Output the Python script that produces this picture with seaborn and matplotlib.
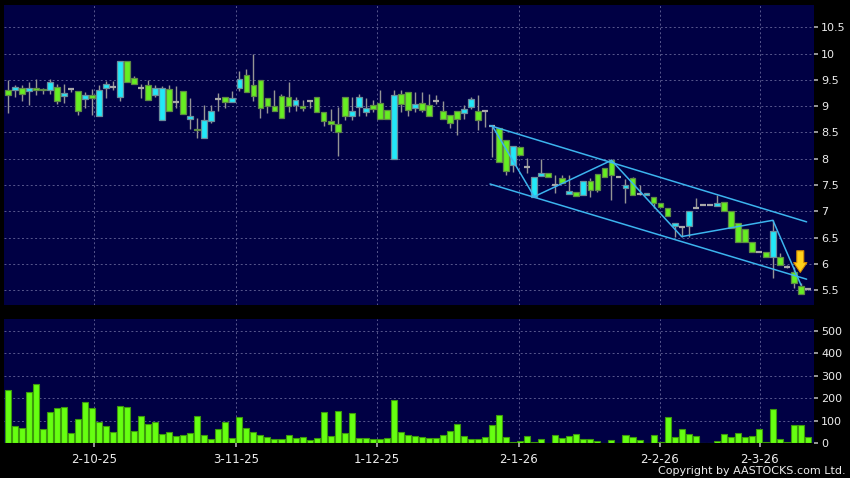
import numpy as np
import matplotlib
matplotlib.use("Agg")
import matplotlib.pyplot as plt
import seaborn as sns

# daily candles, oldest first
opens = [9.30, 9.30, 9.35, 9.28, 9.35, 9.32, 9.30, 9.37, 9.20, 9.33,
         9.28, 9.13, 9.22, 8.81, 9.35, 9.37, 9.18, 9.85, 9.54, 9.35,
         9.41, 9.22, 8.73, 9.32, 9.07, 9.29, 8.75, 8.56, 8.39, 8.72,
         9.13, 9.18, 9.07, 9.34, 9.60, 9.40, 9.49, 9.16, 9.00, 9.20,
         9.18, 9.03, 9.01, 9.09, 9.17, 8.89, 8.72, 8.66, 9.17, 8.82,
         8.99, 8.89, 9.02, 9.06, 8.93, 8.00, 9.23, 9.27, 8.97, 9.06,
         9.03, 9.09, 8.91, 8.84, 8.91, 8.87, 8.99, 8.91, 8.91, 8.62,
         8.59, 8.35, 7.88, 8.23, 7.84, 7.28, 7.67, 7.72, 7.50, 7.64,
         7.33, 7.37, 7.31, 7.58, 7.71, 7.82, 7.97, 7.65, 7.44, 7.63,
         7.33, 7.31, 7.28, 7.15, 7.06, 6.72, 6.71, 6.73, 7.06, 7.12,
         7.12, 7.11, 7.18, 7.01, 6.77, 6.66, 6.41, 6.22, 6.22, 6.13,
         6.13, 5.94, 5.85, 5.58, 5.52]
highs = [9.49, 9.40, 9.40, 9.45, 9.51, 9.35, 9.51, 9.42, 9.42, 9.33,
         9.28, 9.27, 9.32, 9.40, 9.47, 9.47, 9.85, 9.85, 9.58, 9.43,
         9.49, 9.40, 9.38, 9.40, 9.38, 9.29, 9.16, 8.78, 9.02, 9.02,
         9.25, 9.18, 9.29, 9.66, 9.70, 10.00, 9.49, 9.16, 9.30, 9.23,
         9.46, 9.17, 9.11, 9.09, 9.17, 8.89, 8.95, 8.99, 9.17, 9.18,
         9.23, 9.16, 9.12, 9.30, 8.93, 9.30, 9.30, 9.27, 9.26, 9.26,
         9.24, 9.21, 9.10, 8.84, 8.91, 9.02, 9.18, 9.21, 8.91, 8.64,
         8.59, 8.35, 8.24, 8.23, 8.01, 7.65, 8.00, 7.72, 7.69, 7.69,
         7.69, 7.37, 7.58, 7.63, 7.71, 7.82, 7.99, 7.65, 7.61, 7.66,
         7.50, 7.35, 7.28, 7.15, 7.06, 6.77, 6.71, 7.00, 7.25, 7.12,
         7.12, 7.31, 7.18, 7.01, 6.77, 6.66, 6.41, 6.22, 6.22, 6.83,
         6.20, 5.98, 5.95, 5.63, 5.53]
lows = [8.87, 9.18, 9.10, 9.02, 9.21, 9.24, 9.24, 9.05, 9.06, 9.27,
        8.84, 8.97, 8.83, 8.81, 9.16, 9.30, 9.10, 9.46, 9.43, 9.15,
        9.11, 9.18, 8.73, 8.90, 8.97, 8.86, 8.56, 8.39, 8.39, 8.67,
        8.91, 8.97, 9.07, 9.29, 9.27, 9.10, 8.77, 8.87, 8.91, 8.78,
        8.89, 8.91, 8.91, 8.97, 8.89, 8.62, 8.52, 8.05, 8.74, 8.74,
        8.82, 8.82, 8.89, 8.76, 8.76, 8.00, 8.89, 8.82, 8.89, 8.89,
        8.82, 9.05, 8.75, 8.58, 8.45, 8.75, 8.95, 8.54, 8.61, 8.04,
        7.94, 7.69, 7.75, 8.07, 7.72, 7.28, 7.67, 7.65, 7.34, 7.53,
        7.33, 7.30, 7.31, 7.28, 7.37, 7.66, 7.22, 7.65, 7.15, 7.31,
        7.31, 7.31, 7.06, 7.08, 6.91, 6.51, 6.52, 6.52, 7.06, 7.12,
        7.12, 7.11, 7.01, 6.68, 6.41, 6.41, 6.23, 6.22, 6.13, 5.73,
        5.98, 5.92, 5.54, 5.43, 5.51]
closes = [9.22, 9.355, 9.24, 9.35, 9.30, 9.30, 9.46, 9.10, 9.25, 9.33,
          8.90, 9.22, 9.16, 9.30, 9.43, 9.37, 9.85, 9.46, 9.43, 9.35,
          9.11, 9.35, 9.34, 8.90, 9.07, 8.86, 8.82, 8.54, 8.73, 8.91,
          9.13, 9.07, 9.15, 9.51, 9.27, 9.20, 8.97, 9.00, 8.91, 8.78,
          9.00, 9.12, 8.97, 9.09, 8.89, 8.71, 8.66, 8.51, 8.82, 8.91,
          9.17, 8.96, 8.94, 8.76, 8.76, 9.22, 9.04, 8.92, 9.05, 8.92,
          8.82, 9.09, 8.75, 8.67, 8.75, 8.94, 9.13, 8.73, 8.91, 8.62,
          7.94, 7.77, 8.24, 8.07, 7.84, 7.65, 7.72, 7.65, 7.50, 7.53,
          7.39, 7.30, 7.58, 7.41, 7.41, 7.66, 7.69, 7.65, 7.51, 7.31,
          7.33, 7.35, 7.15, 7.08, 6.91, 6.77, 6.71, 7.00, 7.06, 7.12,
          7.12, 7.15, 7.01, 6.68, 6.41, 6.41, 6.23, 6.22, 6.13, 6.63,
          5.98, 5.94, 5.63, 5.43, 5.52]
# volume (thousand shares)
volumes = [237, 77, 67, 229, 266, 65, 139, 157, 160, 44,
           110, 184, 157, 96, 77, 49, 167, 163, 56, 123,
           86, 95, 41, 49, 34, 37, 44, 121, 38, 18,
           64, 95, 25, 117, 68, 52, 36, 27, 21, 21,
           36, 22, 28, 16, 24, 139, 34, 145, 46, 133,
           22, 22, 19, 19, 22, 194, 50, 37, 31, 30,
           25, 24, 37, 55, 87, 33, 18, 18, 28, 80,
           127, 28, 4, 9, 33, 7, 19, 0, 37, 24,
           31, 41, 21, 18, 12, 0, 15, 0, 36, 28,
           13, 0, 38, 6, 117, 27, 64, 43, 34, 0,
           0, 10, 41, 28, 44, 27, 34, 62, 6, 154,
           19, 4, 83, 80, 27]

date_labels = ["2-10-25", "3-11-25", "1-12-25", "2-1-26", "2-2-26", "2-3-26"]
date_pos = [12.3, 32.5, 52.6, 72.8, 92.9, 107.1]

# drawn trend annotations (bar index, price)
zigzag_x = [69, 75, 86, 96, 109, 113]
zigzag_y = [8.63, 7.28, 7.97, 6.52, 6.83, 5.60]
channel_x = [68.7, 113.8]
channel_upper = [8.63, 6.80]
channel_lower = [7.52, 5.71]
arrow_x, arrow_top, arrow_tip = 112.9, 6.25, 5.84

sns.set_theme(style="dark")
plt.rcParams["font.family"] = ["DejaVu Sans"]

bg = "#000044"
grid_c = "#58588e"
txt_c = "#ececec"

fig = plt.figure(figsize=(8.5, 4.78), dpi=100, facecolor="black")
ax = fig.add_axes([0.0047, 0.362, 0.953, 0.627])
axv = fig.add_axes([0.0047, 0.0726, 0.953, 0.2594])

o = np.array(opens)
h = np.array(highs)
l = np.array(lows)
c = np.array(closes)
days = np.arange(len(o))
up = c > o
down = c < o
flat = c == o
body_lo = np.minimum(o, c)
body_h = np.abs(c - o)

# candles
ax.vlines(days, l, h, color="#959595", lw=1, zorder=2)
ax.bar(days[up], body_h[up], bottom=body_lo[up], width=0.82,
       color="#22e8f8", edgecolor="#6a8e9c", lw=0.9, zorder=3)
ax.bar(days[down], body_h[down], bottom=body_lo[down], width=0.82,
       color="#66ee22", edgecolor="#5f8a45", lw=0.9, zorder=3)
ax.hlines(o[flat], days[flat] - 0.42, days[flat] + 0.42,
          color="#a8a8a8", lw=1.6, zorder=3)

# trend lines
line_kw = dict(color="#3cb4ee", lw=1.1, zorder=4)
ax.plot(channel_x, channel_upper, **line_kw)
ax.plot(channel_x, channel_lower, **line_kw)
sns.lineplot(x=zigzag_x, y=zigzag_y, ax=ax, sort=False, **line_kw)

ax.annotate("", xy=(arrow_x, arrow_tip), xytext=(arrow_x, arrow_top),
            arrowprops=dict(arrowstyle="simple,head_length=0.7,head_width=0.95,tail_width=0.5",
                            fc="#ffd21a", ec="#d98c00", lw=0.8,
                            mutation_scale=10, shrinkA=0, shrinkB=0),
            zorder=5)

# volume
sns.barplot(x=days, y=volumes, native_scale=True, color="#66ff11",
            edgecolor="#3c9a0c", linewidth=0.8, saturation=1, width=0.86,
            errorbar=None, ax=axv, zorder=3)

for a in (ax, axv):
    a.set_facecolor(bg)
    a.set_xlim(-0.53, 114.86)
    for s in a.spines.values():
        s.set_visible(False)
    a.yaxis.tick_right()
    a.set_xticks(date_pos)
    a.grid(True, color=grid_c, lw=0.7, ls=(0, (2, 2.5)))
    a.set_axisbelow(True)
    a.set_xlabel("")
    a.set_ylabel("")
    a.tick_params(axis="y", colors="#aaaaaa", labelcolor=txt_c, length=3,
                  pad=2, labelsize=8, left=False, right=True)

ax.set_ylim(5.22, 10.918)
ax.set_yticks(np.arange(5.5, 10.51, 0.5))
ax.set_yticklabels([f"{v:g}" for v in np.arange(5.5, 10.51, 0.5)])
ax.tick_params(axis="x", length=0, labelbottom=False)

axv.set_ylim(0, 552)
axv.set_yticks([0, 100, 200, 300, 400, 500])
axv.set_xticklabels(date_labels)
axv.tick_params(axis="x", colors="#aaaaaa", labelcolor=txt_c, length=3,
                pad=4, labelsize=8.5, bottom=True)

fig.text(0.995, 0.0136, "Copyright by AASTOCKS.com Ltd.", ha="right",
         va="center", color=txt_c, fontsize=8)

fig.savefig("out.png", dpi=100, facecolor="black")
